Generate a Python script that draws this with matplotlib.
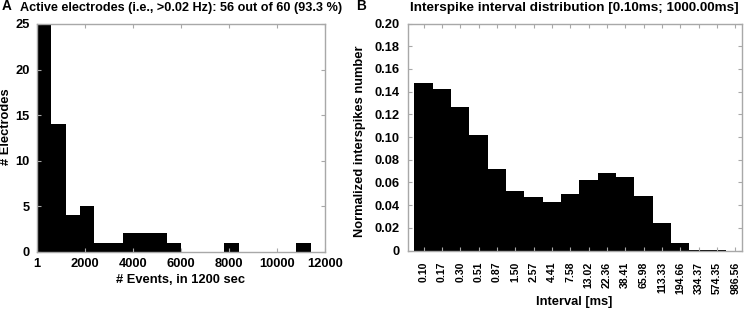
import matplotlib
matplotlib.use("Agg")
import matplotlib.pyplot as plt
import numpy as np

plt.rcParams['font.family'] = ['Liberation Sans', 'DejaVu Sans']
plt.rcParams['font.weight'] = 'bold'
plt.rcParams['axes.labelweight'] = 'bold'
plt.rcParams['axes.titleweight'] = 'bold'

# ---- Panel A data ----
events_bin_start = 1
events_bin_width = 600
electrode_counts = [25, 14, 4, 5, 1, 1, 2, 2, 2, 1, 0, 0, 0, 1, 0, 0, 0, 0, 1, 0]
a_xticks = [1, 2000, 4000, 6000, 8000, 10000, 12000]
a_yticks = [0, 5, 10, 15, 20, 25]

# ---- Panel B data ----
isi_labels = ["0.10", "0.17", "0.30", "0.51", "0.87", "1.50", "2.57", "4.41", "7.58",
              "13.02", "22.36", "38.41", "65.98", "113.33", "194.66", "334.37",
              "574.35", "986.56"]
isi_values = [0.148, 0.142, 0.126, 0.102, 0.072, 0.052, 0.047, 0.043, 0.050,
              0.062, 0.068, 0.065, 0.048, 0.024, 0.007, 0.0006, 0.0002, 0.0]
b_yticks = [0, 0.02, 0.04, 0.06, 0.08, 0.10, 0.12, 0.14, 0.16, 0.18, 0.20]
b_yticklabels = ["0", "0.02", "0.04", "0.06", "0.08", "0.10", "0.12", "0.14", "0.16", "0.18", "0.20"]

W, H = 744, 317
fig = plt.figure(figsize=(W / 100, H / 100), dpi=100)

spine_col = '#a8a8a8'
fs = 9.3

def style(ax):
    for s in ax.spines.values():
        s.set_color(spine_col)
        s.set_linewidth(1.0)
    ax.tick_params(direction='in', length=3.0, width=0.8, color=spine_col,
                   top=True, right=True, labelsize=fs, pad=5)
    ax.set_axisbelow(False)

def px_axes(l, r, t, b):
    return fig.add_axes([l / W, (H - b) / H, (r - l) / W, (b - t) / H])

# Panel A
axA = px_axes(36.7, 325.3, 24, 251.7)
n = len(electrode_counts)
lefts = events_bin_start + events_bin_width * np.arange(n)
axA.bar(lefts, electrode_counts, width=events_bin_width, align='edge',
        color='black', edgecolor='none', linewidth=0)
axA.set_xlim(1, 12000)
axA.set_ylim(0, 25)
axA.set_xticks(a_xticks)
axA.set_xticklabels([str(v) for v in a_xticks])
axA.set_yticks(a_yticks)
style(axA)
axA.tick_params(axis='x', pad=4.5)
axA.tick_params(axis='y', pad=5)
axA.set_xlabel("# Events, in 1200 sec", fontsize=fs)
axA.set_ylabel("# Electrodes", fontsize=fs)
axA.xaxis.set_label_coords(0.5, -0.098)
axA.yaxis.set_label_coords((12 - 36.7) / 288.6, 0.55)
axA.set_title("Active electrodes (i.e., >0.02 Hz): 56 out of 60 (93.3 %)", fontsize=9.1, pad=9)
fig.text(2 / W, 1 - 6.5 / H, "A", fontsize=9.8, fontweight='bold', va='center', ha='left')

# Panel B
axB = px_axes(407.5, 741.7, 23.5, 250.5)
xpos = np.arange(1, len(isi_values) + 1)
axB.bar(xpos, isi_values, width=1.0, color='black', edgecolor='none', linewidth=0)
axB.set_xlim(0.12, 18.35)
axB.set_ylim(0, 0.2)
axB.set_xticks(xpos)
axB.set_xticklabels(isi_labels, rotation=90)
axB.set_yticks(b_yticks)
axB.set_yticklabels(b_yticklabels)
style(axB)
axB.tick_params(axis='y', pad=6)
axB.tick_params(axis='x', pad=8, labelsize=7.6)
axB.set_xlabel("Interval [ms]", fontsize=fs)
axB.set_ylabel("Normalized interspikes number", fontsize=fs)
axB.xaxis.set_label_coords(0.5, (250.5 - 296.5) / 227.0)
axB.yaxis.set_label_coords((366 - 407.5) / 334.2, 0.48)
axB.set_title("Interspike interval distribution [0.10ms; 1000.00ms]", fontsize=9.7, pad=9)
fig.text(356 / W, 1 - 6.5 / H, "B", fontsize=9.8, fontweight='bold', va='center', ha='left')

fig.savefig("out.png", dpi=100)
